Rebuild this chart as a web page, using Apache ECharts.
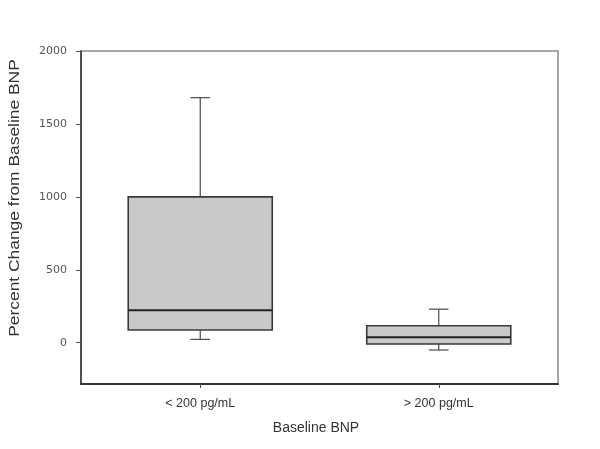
<!DOCTYPE html>
<html>
<head>
<meta charset="utf-8">
<script src="https://cdn.jsdelivr.net/npm/echarts@6/dist/echarts.min.js"></script>
<style>
html,body{margin:0;padding:0;background:#fff;}
#main{width:600px;height:449px;}
</style>
</head>
<body>
<div id="main"></div>
<script>
// ---- data ----
var categories = ['< 200 pg/mL', '> 200 pg/mL'];
var lowWhisker = [23, -50];
var q1 = [87, -9];
var median = [223, 37];
var q3 = [1000, 116];
var highWhisker = [1680, 230];
var yTickValues = [0, 500, 1000, 1500, 2000];
var yAxisTitle = 'Percent Change from Baseline BNP';
var xAxisTitle = 'Baseline BNP';

var boxData = categories.map(function (c, i) {
  return [i, lowWhisker[i], q1[i], median[i], q3[i], highWhisker[i]];
});

var chart = echarts.init(document.getElementById('main'), null, {renderer: 'canvas'});

function renderBox(params, api) {
  var idx = api.value(0);
  var lo = api.coord([idx, api.value(1)]);
  var b1 = api.coord([idx, api.value(2)]);
  var md = api.coord([idx, api.value(3)]);
  var b3 = api.coord([idx, api.value(4)]);
  var hi = api.coord([idx, api.value(5)]);
  var bw = api.size([1, 0])[0];
  var half = bw * 0.302;
  var cap = bw * 0.041;
  var cx = lo[0];
  var whiskerStyle = {stroke: '#4a4a4a', lineWidth: 1.2};
  return {
    type: 'group',
    children: [
      {type: 'line', shape: {x1: cx, y1: b3[1], x2: cx, y2: hi[1]}, style: whiskerStyle},
      {type: 'line', shape: {x1: cx - cap, y1: hi[1], x2: cx + cap, y2: hi[1]}, style: whiskerStyle},
      {type: 'line', shape: {x1: cx, y1: b1[1], x2: cx, y2: lo[1]}, style: whiskerStyle},
      {type: 'line', shape: {x1: cx - cap, y1: lo[1], x2: cx + cap, y2: lo[1]}, style: whiskerStyle},
      {type: 'rect', shape: {x: cx - half, y: b3[1], width: half * 2, height: b1[1] - b3[1]},
        style: {fill: '#c9c9c9', stroke: '#3a3a3a', lineWidth: 1.6}},
      {type: 'line', shape: {x1: cx - half, y1: md[1], x2: cx + half, y2: md[1]},
        style: {stroke: '#222', lineWidth: 2}}
    ]
  };
}

var option = {
  backgroundColor: '#ffffff',
  animation: false,
  grid: {left: 81, right: 42, top: 51, bottom: 65, show: true, borderColor: '#8a8a8a', borderWidth: 1.5, backgroundColor: 'transparent'},
  xAxis: {
    type: 'category',
    data: categories,
    boundaryGap: true,
    axisLine: {show: true, onZero: false, lineStyle: {color: '#333', width: 2}},
    axisTick: {show: true, alignWithLabel: true, length: 4, lineStyle: {color: '#444'}},
    axisLabel: {margin: 13, color: '#333', fontSize: 12.5, fontFamily: 'Liberation Sans'},
    splitLine: {show: false}
  },
  yAxis: {
    type: 'value',
    min: -283,
    max: 2000,
    axisLine: {show: true, onZero: false, lineStyle: {color: '#333', width: 1.5}},
    axisTick: {show: true, length: 5, customValues: yTickValues, lineStyle: {color: '#555'}},
    axisLabel: {margin: 14, color: '#555', fontSize: 11, fontFamily: 'DejaVu Sans', customValues: yTickValues,
      formatter: function (v) { return String(v); }},
    splitLine: {show: false}
  },
  graphic: [
    {
      type: 'text', x: 15, y: 198, rotation: Math.PI / 2, scaleX: 1.16,
      style: {text: yAxisTitle, fontSize: 15, fontFamily: 'Liberation Sans', fill: '#333', textAlign: 'center', textVerticalAlign: 'middle'}
    },
    {
      type: 'text', x: 316, y: 428,
      style: {text: xAxisTitle, fontSize: 14, fontFamily: 'Liberation Sans', fill: '#333', textAlign: 'center', textVerticalAlign: 'middle'}
    }
  ],
  series: [{
    type: 'custom',
    renderItem: renderBox,
    encode: {x: 0, y: [1, 2, 3, 4, 5]},
    data: boxData
  }]
};
chart.setOption(option);
</script>
</body>
</html>
